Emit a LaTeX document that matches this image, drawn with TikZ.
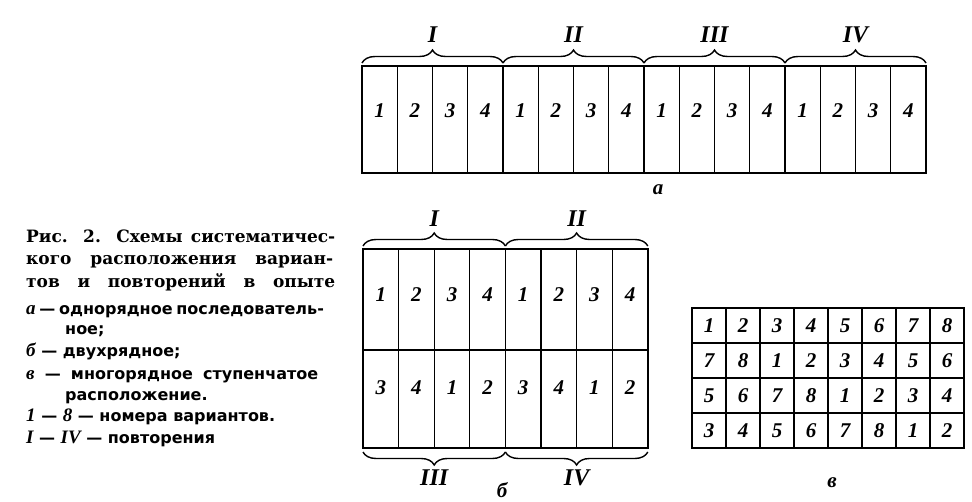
\documentclass[tikz,border=0pt]{standalone}
\usepackage{fontspec}
\setmainfont{Liberation Serif}
\newfontfamily\headfont{DejaVu Serif}
\newfontfamily\legendfont{DejaVu Sans}
\usetikzlibrary{positioning,calc,decorations.pathreplacing}
\tikzset{
	x=1pt, y=-1pt, % picture is laid out in pixels, y grows downwards
	frame/.style={line width=2.2pt}, % outer border of a plot scheme
	divider/.style={line width=1.2pt}, % lines between the plots
	repbrace/.style={decorate, decoration={brace, amplitude=13pt}, line width=1.4pt},
	plotnum/.style={font=\fontsize{21}{21}\selectfont\bfseries\itshape},
	repnum/.style={font=\fontsize{24}{24}\selectfont\bfseries\itshape},
	schemename/.style={font=\fontsize{21}{21}\selectfont\bfseries\itshape},
	headline/.style={anchor=base west, inner sep=0pt, font=\headfont\fontsize{17}{17}\selectfont\bfseries},
	legendline/.style={anchor=base west, inner sep=0pt, font=\legendfont\fontsize{16}{16}\selectfont\bfseries},
}
\newcommand{\legit}[1]{{\rmfamily\itshape\fontsize{19}{19}\selectfont #1}}

\begin{document}
\begin{tikzpicture}
	\useasboundingbox (0,0) rectangle (972,502);

	% --- scheme a: one row, 4 replications of 4 variants
	\foreach \i in {0,...,15} {
		\pgfmathtruncatemacro{\v}{mod(\i,4)+1}
		\node[plotnum] (a-\i) at ({362+(\i+0.5)*35.25},111) {\v};
	}
	\foreach \i in {1,...,15} \draw[divider] ({362+\i*35.25},66) -- ({362+\i*35.25},173);
	\draw[frame] (362,66) rectangle (926,173);
	\foreach \k/\r in {0/I,1/II,2/III,3/IV} {
		\coordinate (abl-\k) at ({362+4*\k*35.25},63);
		\coordinate (abr-\k) at ({362+4*(\k+1)*35.25},63);
		\draw[repbrace] (abl-\k) -- (abr-\k);
		\node[repnum] (arep-\k) at ({362+(4*\k+2)*35.25},35) {\r};
	}
	\node[schemename] (aname) at (658,190) {а};

	% --- scheme b: two rows
	\foreach \i in {0,...,7} {
		\pgfmathtruncatemacro{\v}{mod(\i,4)+1}
		\pgfmathtruncatemacro{\w}{mod(\i+2,4)+1}
		\node[plotnum] (bt-\i) at ({363+(\i+0.5)*35.6},295) {\v};
		\node[plotnum] (bb-\i) at ({363+(\i+0.5)*35.6},388) {\w};
	}
	\foreach \i in {1,...,7} \draw[divider] ({363+\i*35.6},249) -- ({363+\i*35.6},448);
	\draw[divider, line width=1.8pt] ({363+4*35.6},249) -- ({363+4*35.6},448);
	\draw[divider] (363,350) -- (648,350);
	\draw[frame] (363,249) rectangle (648,448);
	\foreach \k/\r/\s in {0/I/III,1/II/IV} {
		\coordinate (btl-\k) at ({363+4*\k*35.6},246);
		\coordinate (btr-\k) at ({363+4*(\k+1)*35.6},246);
		\coordinate (bbl-\k) at ({363+4*\k*35.6},452);
		\coordinate (bbr-\k) at ({363+4*(\k+1)*35.6},452);
		\draw[repbrace] (btl-\k) -- (btr-\k);
		\draw[repbrace] (bbr-\k) -- (bbl-\k);
		\node[repnum] (btrep-\k) at ({363+(4*\k+2)*35.6},219) {\r};
		\node[repnum] (bbrep-\k) at ({363+(4*\k+2)*35.6},478) {\s};
	}
	\node[schemename] (bname) at (502,490) {б};

	% --- scheme c: stepped, 4 rows of 8 variants
	\foreach \r in {0,...,3} {
		\foreach \c in {0,...,7} {
			\pgfmathtruncatemacro{\v}{mod(\c-2*\r+16,8)+1}
			\node[plotnum] (c-\r-\c) at ({692+(\c+0.5)*34},{308+(\r+0.5)*35}) {\v};
		}
	}
	\foreach \c in {1,...,7} \draw[divider, line width=1.6pt] ({692+\c*34},308) -- ({692+\c*34},448);
	\foreach \r in {1,...,3} \draw[divider, line width=1.6pt] (692,{308+\r*35}) -- (964,{308+\r*35});
	\draw[frame] (692,308) rectangle (964,448);
	\node[schemename] (cname) at (832,483) {в};

	% --- caption
	\node[headline] (cap1) at (26,243) {\makebox[309pt][s]{Рис. 2. Схемы систематичес-}};
	\node[headline] (cap2) at (26,265) {\makebox[307pt][s]{кого расположения вариан-}};
	\node[headline] (cap3) at (26,288) {\makebox[309pt][s]{тов и повторений в опыте}};
	\node[legendline] (leg1) at (26,315) {\makebox[296pt][s]{\legit{а} — однорядное последователь-}};
	\node[legendline] (leg2) at (65,335) {ное;};
	\node[legendline] (leg3) at (26,357) {\legit{б} — двухрядное;};
	\node[legendline] (leg4) at (26,380) {\makebox[292pt][s]{\legit{в} — многорядное ступенчатое}};
	\node[legendline] (leg5) at (65,401) {расположение.};
	\node[legendline] (leg6) at (26,422) {\legit{1} — \legit{8} — номера вариантов.};
	\node[legendline] (leg7) at (26,443) {\legit{I} — \legit{IV} — повторения};
\end{tikzpicture}
\end{document}
